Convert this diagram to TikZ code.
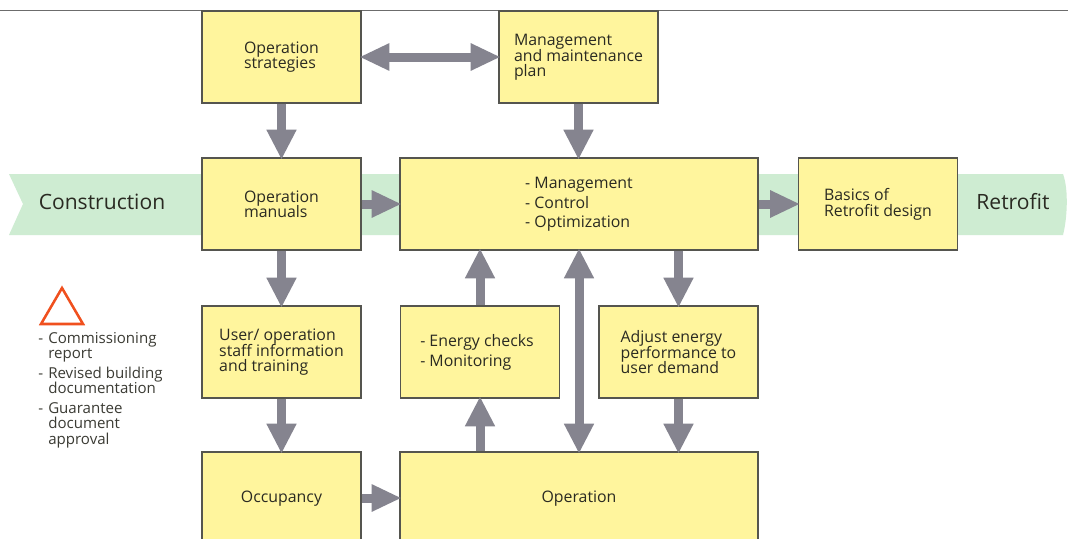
\documentclass[tikz,border=0pt]{standalone}
\usepackage{fontspec}
\setmainfont{Open Sans}
\usetikzlibrary{arrows.meta,calc}
\definecolor{boxfill}{HTML}{FFF59D}
\definecolor{boxline}{HTML}{55554F}
\definecolor{bandfill}{HTML}{CEECD2}
\definecolor{arrowgrey}{HTML}{85848F}
\definecolor{triline}{HTML}{F0501E}
\definecolor{inktext}{HTML}{2A2A22}
\tikzset{
  x=0.75pt,y=-0.75pt,
  box/.style={draw=boxline,fill=boxfill,line width=1.1pt,minimum width=119.25pt,minimum height=69pt,inner sep=0pt},
  boxwide/.style={box,minimum width=268.5pt},
  boxtext/.style={font=\fontsize{11.9}{11.6}\selectfont,text=inktext,align=left,inner sep=0pt,yshift=-0.2pt},
  bandtext/.style={font=\fontsize{15.8}{17}\selectfont,text=inktext,inner sep=0pt},
  legendtext/.style={font=\fontsize{11.3}{11.6}\selectfont,text=inktext!92!white,align=left,inner sep=0pt},
  flowv/.style={draw=arrowgrey,line width=6.75pt,shorten >=-1.8pt,-{Triangle[length=22.5pt,width=21pt,color=arrowgrey]}},
  flowh/.style={draw=arrowgrey,line width=6.75pt,shorten >=-1.8pt,-{Triangle[length=22.5pt,width=19pt,color=arrowgrey]}},
  flowv2/.style={draw=arrowgrey,line width=6.75pt,shorten >=-1.8pt,shorten <=-1.8pt,{Triangle[length=22.5pt,width=21pt,color=arrowgrey]}-{Triangle[length=22.5pt,width=21pt,color=arrowgrey]}},
  flowh2/.style={draw=arrowgrey,line width=6.75pt,shorten >=-1.8pt,shorten <=-1.8pt,{Triangle[length=22.5pt,width=19pt,color=arrowgrey]}-{Triangle[length=22.5pt,width=19pt,color=arrowgrey]}},
}
\newcommand{\dashitem}{\makebox[7.5pt][l]{-}}
\newcommand{\contitem}{\hspace*{7.5pt}}
\lineskiplimit=-6pt\relax
\begin{document}
\begin{tikzpicture}
\useasboundingbox (0,0) rectangle (1068,539);
\clip (0,0) rectangle (1068,539);
\fill[white] (0,0) rectangle (1068,539);
\draw[gray!85!black,line width=0.75pt] (0,10) -- (1068,10);
% band
\fill[bandfill] (9,174) -- (23,204) -- (9,235) -- (1063,235) .. controls (1067,220) and (1069,190) .. (1063,174) -- cycle;
\node[bandtext] (construction) at (102,202) {Construction};
\node[bandtext] (retrofit) at (1013,202) {Retrofit};
% boxes
\node[box] (os) at (281.5,57) {};
\node[boxtext] (ostext) at (os.center) {Operation\\strategies};
\node[box] (mm) at (578.5,57) {};
\node[boxtext] (mmtext) at (mm.center) {Management\\and maintenance\\plan};
\node[box] (om) at (281.5,204) {};
\node[boxtext] (omtext) at (om.center) {Operation\\manuals};
\node[boxwide] (mg) at (579,204) {};
\node[boxtext] (mgtext) at (mg.center) {- Management\\[3pt]- Control\\[3pt]- Optimization};
\node[box] (ba) at (878,204) {};
\node[boxtext] (batext) at (ba.center) {Basics of\\Retrofit design};
\node[box] (us) at (281.5,352) {};
\node[boxtext] (ustext) at (us.center) {User/ operation\\staff information\\and training};
\node[box] (en) at (480,352) {};
\node[boxtext] (entext) at ($(en.center)+(-3,0)$) {- Energy checks\\[3pt]- Monitoring};
\node[box] (ad) at (678.5,352) {};
\node[boxtext] (adtext) at (ad.center) {Adjust energy\\performance to\\user demand};
\node[box] (oc) at (281.5,498) {};
\node[boxtext] (octext) at (oc.center) {Occupancy};
\node[boxwide] (op) at (579,498) {};
\node[boxtext] (optext) at (op.center) {Operation};
% connectors
\draw[flowh2] (os.east) -- (mm.west);
\draw[flowv] (os.south) -- (om.north);
\draw[flowv] (mm.south) -- (mm.south |- mg.north);
\draw[flowh] (om.east) -- (mg.west);
\draw[flowh] (mg.east) -- (ba.west);
\draw[flowv] (om.south) -- (us.north);
\draw[flowv] (us.south) -- (oc.north);
\draw[flowh] (oc.east) -- (op.west);
\draw[flowv] (en.north) -- (en.north |- mg.south);
\draw[flowv] (en.south |- op.north) -- (en.south);
\draw[flowv2] (op.north) -- (mg.south);
\draw[flowv] (ad.north |- mg.south) -- (ad.north);
\draw[flowv] (ad.south) -- (ad.south |- op.north);
% legend
\draw[triline,line width=1.9pt,line join=miter] (62,288) -- (83,324) -- (41,324) -- cycle;
\node[legendtext,anchor=north west] (legend) at (38,332) {\dashitem Commissioning\\\contitem report\\[3pt]\dashitem Revised building\\\contitem documentation\\[3pt]\dashitem Guarantee\\\contitem document\\\contitem approval};
\end{tikzpicture}
\end{document}
